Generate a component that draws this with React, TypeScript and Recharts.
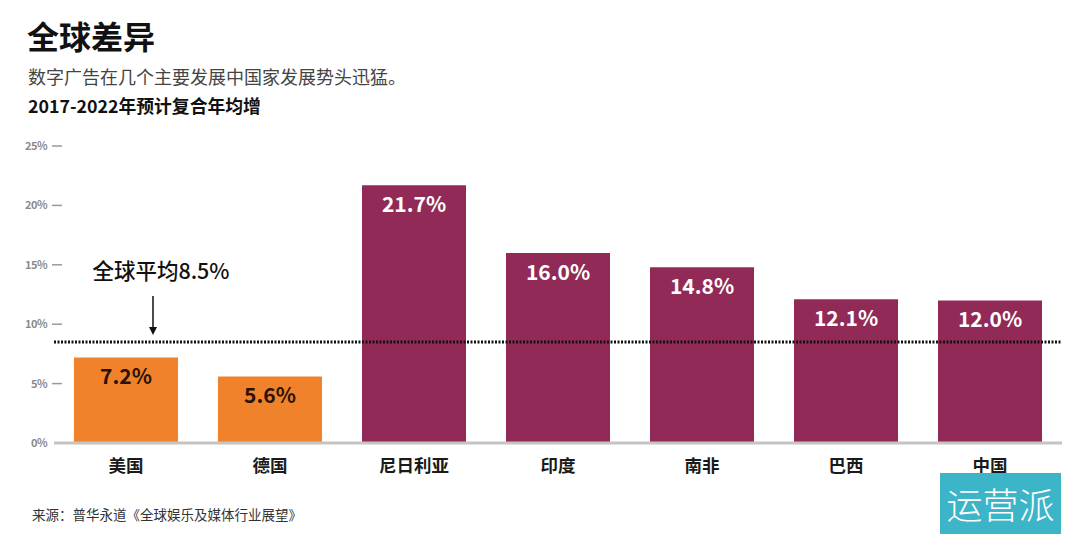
import React from 'react';
import { BarChart, Bar, XAxis, YAxis, Cell, LabelList, ReferenceLine } from 'recharts';

const categories = ['美国', '德国', '尼日利亚', '印度', '南非', '巴西', '中国'];
const values = [7.2, 5.6, 21.7, 16.0, 14.8, 12.1, 12.0];
const groups = ['developed', 'developed', 'emerging', 'emerging', 'emerging', 'emerging', 'emerging'];
const yTicks = [0, 5, 10, 15, 20, 25];
const globalAverage = 8.5;
const globalAverageLabel = '全球平均8.5%';

const ORANGE = '#F0822C';
const MAROON = '#912A56';
const FONT = '"Noto Sans CJK SC", "Noto Sans", sans-serif';

const data = categories.map((c, i) => ({ name: c, value: values[i], group: groups[i] }));

const YTick = (props: any) => {
  const { x, y, payload } = props;
  return (
    <g>
      <text x={x - 7} y={y} dy={4} textAnchor="end" fontSize={11} fontWeight={700} fill="#8a8a8a" fontFamily={FONT} letterSpacing={-0.5}>
        {payload.value}%
      </text>
      {payload.value !== 0 && <line x1={x - 2} x2={x + 8} y1={y} y2={y} stroke="#9a9a9a" strokeWidth={1.5} />}
    </g>
  );
};

const XTick = (props: any) => {
  const { x, y, payload } = props;
  return (
    <text x={x} y={y} dy={29} textAnchor="middle" fontSize={17.5} fontWeight={700} fill="#1a1a1a" fontFamily={FONT}>
      {payload.value}
    </text>
  );
};

const ValueLabel = (props: any) => {
  const { x, y, width, value, index } = props;
  const dev = groups[index] === 'developed';
  return (
    <text x={x + width / 2} y={y + 20} dy={7} textAnchor="middle" fontSize={21} fontWeight={700} fill={dev ? '#2a1208' : '#ffffff'} fontFamily={FONT}>
      {Number(value).toFixed(1)}%
    </text>
  );
};

const AvgLabel = (props: any) => {
  const { viewBox } = props;
  const x0 = viewBox.x;
  const y0 = viewBox.y;
  const ax = x0 + 99;
  return (
    <g>
      <text x={x0 + 107} y={y0 - 63} textAnchor="middle" fontSize={21.5} fontWeight={500} fill="#111" fontFamily={FONT}>
        {globalAverageLabel}
      </text>
      <line x1={ax} x2={ax} y1={y0 - 46} y2={y0 - 14} stroke="#111" strokeWidth={1.5} />
      <path d={`M ${ax - 4} ${y0 - 15} L ${ax + 4} ${y0 - 15} L ${ax} ${y0 - 7} Z`} fill="#111" />
    </g>
  );
};

export default function App() {
  return (
    <div style={{ position: 'absolute', left: 0, top: 0, width: 1080, height: 552, background: '#fff', fontFamily: FONT }}>
      <div style={{ position: 'absolute', left: 27, top: 13, fontSize: 32, fontWeight: 700, color: '#111', lineHeight: '44px' }}>全球差异</div>
      <div style={{ position: 'absolute', left: 28, top: 63, fontSize: 18, color: '#444', lineHeight: '26px' }}>数字广告在几个主要发展中国家发展势头迅猛。</div>
      <div style={{ position: 'absolute', left: 28, top: 92, fontSize: 17.8, fontWeight: 700, color: '#111', lineHeight: '26px' }}>2017-2022年预计复合年均增</div>
      <BarChart width={1080} height={552} data={data} margin={{ top: 146, right: 18, bottom: 79, left: 8 }} barCategoryGap={20}>
        <YAxis
          width={46}
          domain={[0, 25]}
          ticks={yTicks}
          axisLine={false}
          tickLine={false}
          tickSize={0}
          tickMargin={0}
          tick={<YTick />}
          interval={0}
        />
        <XAxis
          dataKey="name"
          height={30}
          axisLine={{ stroke: '#c4c4c4', strokeWidth: 3 }}
          tickLine={false}
          tick={<XTick />}
          interval={0}
          tickSize={0}
          tickMargin={0}
        />
        <Bar dataKey="value" isAnimationActive={false}>
          {data.map((d, i) => (
            <Cell key={i} fill={d.group === 'developed' ? ORANGE : MAROON} />
          ))}
          <LabelList dataKey="value" content={<ValueLabel />} />
        </Bar>
        <ReferenceLine y={globalAverage} stroke="#111" strokeWidth={3} strokeDasharray="2 1.5" label={<AvgLabel />} />
      </BarChart>
      <div style={{ position: 'absolute', left: 32, top: 504, fontSize: 13.5, color: '#333', lineHeight: '20px' }}>来源：普华永道《全球娱乐及媒体行业展望》</div>
      <div style={{ position: 'absolute', left: 940, top: 473, width: 121, height: 61, background: '#3DB5C8', color: '#fff', fontSize: 36, lineHeight: '61px', textAlign: 'center', fontWeight: 300 }}>运营派</div>
    </div>
  );
}
